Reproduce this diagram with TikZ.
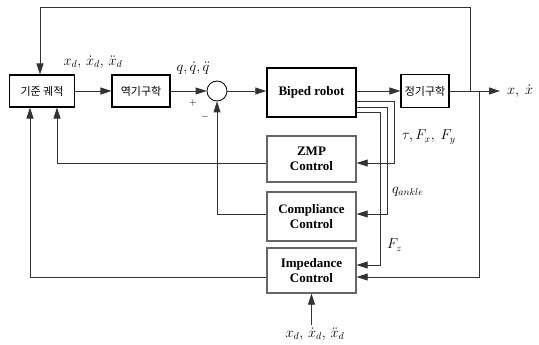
\documentclass[tikz,border=0pt]{standalone}
\usepackage{fontspec}
\setmainfont{Liberation Serif}
\newfontfamily\kr{Noto Sans CJK KR}
\usetikzlibrary{arrows.meta,positioning,calc}

\begin{document}
\begin{tikzpicture}[x=1pt,y=-1pt, every node/.style={inner sep=0pt}, blk/.style={draw,line width=1.1pt,align=center,minimum height=32pt,font={\kr\fontsize{11}{13}\selectfont}}, ctrl/.style={draw=black!60,line width=1.3pt,align=center,minimum width=89pt,font={\bfseries\fontsize{13}{14.5}\selectfont}}, arr/.style={-{Triangle[length=11pt,width=7pt]},line width=0.8pt,draw=black!80}, lbl/.style={font=\fontsize{14}{16}\selectfont}, sgn/.style={font=\fontsize{10}{12}\selectfont}]
\useasboundingbox (0,0) rectangle (539,345);
\node[blk,minimum width=65pt] (ref) at (42,91) {기준 궤적};
\node[blk,minimum width=58pt] (ik) at (141,91) {역기구학};
\node[circle,draw,line width=0.8pt,minimum size=20pt] (sum) at (217,91) {};
\node[draw,line width=1.5pt,minimum width=89pt,minimum height=49pt,font={\bfseries\fontsize{13}{15}\selectfont}] (robot) at (311.5,92.5) {Biped robot};
\node[blk,minimum width=48pt,minimum height=33pt] (fk) at (425,91) {정기구학};
\node[ctrl,minimum height=46pt] (zmp) at (311.5,159) {ZMP\\Control};
\node[ctrl,minimum height=49pt] (comp) at (311.5,216.5) {Compliance\\Control};
\node[ctrl,minimum height=45pt] (imp) at (311.5,270.5) {Impedance\\Control};
% bends and free ends
\coordinate (out) at (500,91);
\coordinate (b1) at (470,91);
\coordinate (b2) at (479,91);
\coordinate (top) at (40,7);
\coordinate (c1) at (394,0);
\coordinate (c2) at (387,0);
\coordinate (c3) at (380,0);
\coordinate (r1) at ([yshift=-8.5pt]robot.east);
\coordinate (r2) at ([yshift=-14.5pt]robot.east);
\coordinate (r3) at ([yshift=-19.5pt]robot.east);
\coordinate (zin) at ([yshift=-4pt]zmp.east);
\coordinate (zout) at ([yshift=-4pt]zmp.west);
\coordinate (cin) at ([yshift=2.5pt]comp.east);
\coordinate (cout) at ([yshift=2.5pt]comp.west);
\coordinate (iin1) at ([yshift=5.5pt]imp.east);
\coordinate (iin2) at ([yshift=-6.5pt]imp.east);
\coordinate (iout) at ([yshift=-6.5pt]imp.west);
\coordinate (fb1) at ([xshift=-12pt]ref.south);
\coordinate (fb2) at ([xshift=15pt]ref.south);
\coordinate (xdin) at (311.5,325);
% forward path
\draw[arr] (ref) -- (ik);
\draw[arr] (ik) -- (sum);
\draw[arr] (sum) -- (sum -| robot.west);
\draw[arr] (robot.east |- fk.west) -- (fk);
\draw[arr] (fk) -- (out);
% feedback
\draw[arr] (b1) |- (top) -- (top |- ref.north);
\draw[arr] (b2) |- (iin2);
\draw[arr] (r1) -| (c1 |- zin) -- (zin);
\draw[arr] (r2) -| (c2 |- cin) -- (cin);
\draw[arr] (r3) -| (c3 |- iin1) -- (iin1);
\draw[arr] (zout) -| (fb2);
\draw[arr] (cout) -| (sum);
\draw[arr] (iout) -| (fb1);
\draw[arr] (xdin) -- (imp);
% labels
\node[lbl] (xdtop) at (93,62) {$x_d,\,\dot x_d,\,\ddot x_d$};
\node[lbl] (qlbl) at (193,68) {$q,\dot q,\ddot q$};
\node[sgn] (plus) at (193,103) {$+$};
\node[sgn] (minus) at (205,117) {$-$};
\node[lbl,anchor=west] (xout) at (507,91) {$x,\ \dot x$};
\node[lbl,anchor=west] (tau) at (402,137) {$\tau, F_x,\ F_y$};
\node[lbl,anchor=west] (qank) at (392,192) {$q_{ankle}$};
\node[lbl,anchor=west] (fz) at (387,245) {$F_z$};
\node[lbl] (xdbot) at (315,334) {$x_d,\,\dot x_d,\,\ddot x_d$};
\end{tikzpicture}
\end{document}
